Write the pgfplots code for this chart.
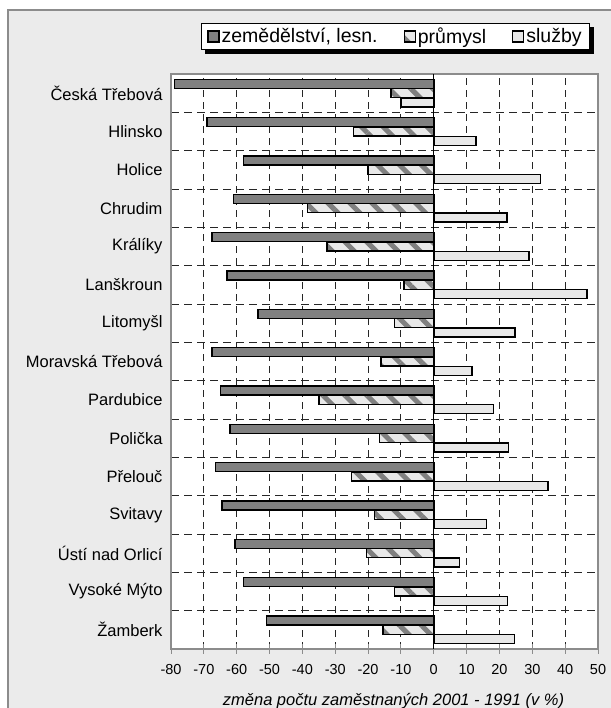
\documentclass[border=0pt]{standalone}
\usepackage{fontspec}
\setmainfont{Liberation Sans}
\usepackage{pgfplots}
\pgfplotsset{compat=1.18}
\usetikzlibrary{patterns.meta, backgrounds}

\definecolor{bggray}{RGB}{235,235,235}
\definecolor{framegray}{RGB}{140,140,140}
\definecolor{zemcol}{RGB}{128,128,128}
\definecolor{lightcol}{RGB}{232,232,232}

\newcommand{\legfont}{\fontsize{19.5}{22}\selectfont}
\pgfplotsset{/pgfplots/xbar legend/.style={/pgfplots/legend image code/.code={\draw[##1, draw=black, line width=1.2pt] (0pt,-5.5pt) rectangle (11pt,5.5pt);}}}

\begin{document}
\begin{tikzpicture}
\useasboundingbox (0,0) rectangle (610pt,708pt);
\begin{scope}[on background layer]
\fill[white] (0,0) rectangle (610pt,708pt);
\filldraw[fill=bggray, draw=framegray, line width=2pt] (8pt,-10pt) rectangle (620pt,698pt);
\end{scope}
\begin{axis}[
  at={(171pt,59pt)}, anchor=south west,
  scale only axis, width=427pt, height=575pt,
  axis background/.style={fill=white},
  xbar, bar width=9pt,
  xmin=-80, xmax=50, ymin=-0.5, ymax=14.5,
  xtick={-80,-70,...,50},
  xticklabels={-80,-70,-60,-50,-40,-30,-20,-10,0,10,20,30,40,50},
  xtick pos=bottom,
  tick align=center,
  major tick length=10pt,
  xtick style={draw=framegray, line width=1pt},
  x tick label style={font=\fontsize{14.5}{16}\selectfont},
  xticklabel shift=7pt,
  ytick={0,...,14},
  yticklabels={Žamberk, Vysoké Mýto, Ústí nad Orlicí, Svitavy, Přelouč, Polička, Pardubice, Moravská Třebová, Litomyšl, Lanškroun, Králíky, Chrudim, Holice, Hlinsko, Česká Třebová},
  y tick label style={font=\fontsize{16.5}{19}\selectfont},
  minor ytick={0.5,1.5,...,13.5},
  ytick style={draw=none},
  xmajorgrids, yminorgrids,
  major grid style={dash pattern=on 7pt off 5pt, black!85, line width=0.9pt},
  minor grid style={dash pattern=on 8pt off 5pt, black!85, line width=0.9pt},
  extra x ticks={0},
  extra x tick labels={},
  extra x tick style={grid=major, major grid style={solid, black, line width=1.2pt}, xtick style={draw=none}},
  axis line style={draw=framegray, line width=1.5pt},
  xlabel={\itshape změna počtu zaměstnaných 2001 - 1991 (v \%)},
  xlabel style={font=\fontsize{16.5}{19}\selectfont, xshift=9pt, yshift=12pt},
  legend columns=3,
  legend style={at={(1,1)}, anchor=north east, xshift=-8pt, yshift=51pt,
    name=myleg,
    draw=black, line width=0.8pt, fill=white,
    font=\legfont,
    /tikz/every even column/.append style={column sep=24pt},
    inner xsep=6pt, inner ysep=2.5pt},
]
\addplot[draw=black, line width=1.5pt, fill=zemcol, bar shift=9.3pt] coordinates {
(-51,0) (-58,1) (-60.5,2) (-64.5,3) (-66.5,4) (-62,5) (-65,6) (-67.5,7) (-53.5,8) (-63,9) (-67.5,10) (-61,11) (-58,12) (-69,13) (-79,14)};
\addlegendentry{\legfont zemědělství, lesn.}
\addplot[draw=black, line width=1.5pt, preaction={fill=lightcol}, pattern={Lines[angle=-45,distance=15.5pt,line width=5pt]}, pattern color=zemcol, bar shift=0pt] coordinates {
(-15.5,0) (-12,1) (-20.5,2) (-18,3) (-25,4) (-16.5,5) (-35,6) (-16,7) (-12,8) (-9,9) (-32.5,10) (-38.5,11) (-20,12) (-24.5,13) (-13,14)};
\addlegendentry{\legfont průmysl}
\addplot[draw=black, line width=1.5pt, fill=lightcol, bar shift=-9.3pt] coordinates {
(24.6,0) (22.4,1) (7.9,2) (16,3) (34.7,4) (22.8,5) (18.2,6) (11.7,7) (24.8,8) (46.7,9) (29,10) (22.3,11) (32.5,12) (12.8,13) (-10,14)};
\addlegendentry{\legfont služby}
\end{axis}
\begin{scope}[on background layer]
\fill[black] ([shift={(4pt,-4pt)}]myleg.south west) rectangle ([shift={(4pt,-4pt)}]myleg.north east);
\end{scope}
\end{tikzpicture}
\end{document}
